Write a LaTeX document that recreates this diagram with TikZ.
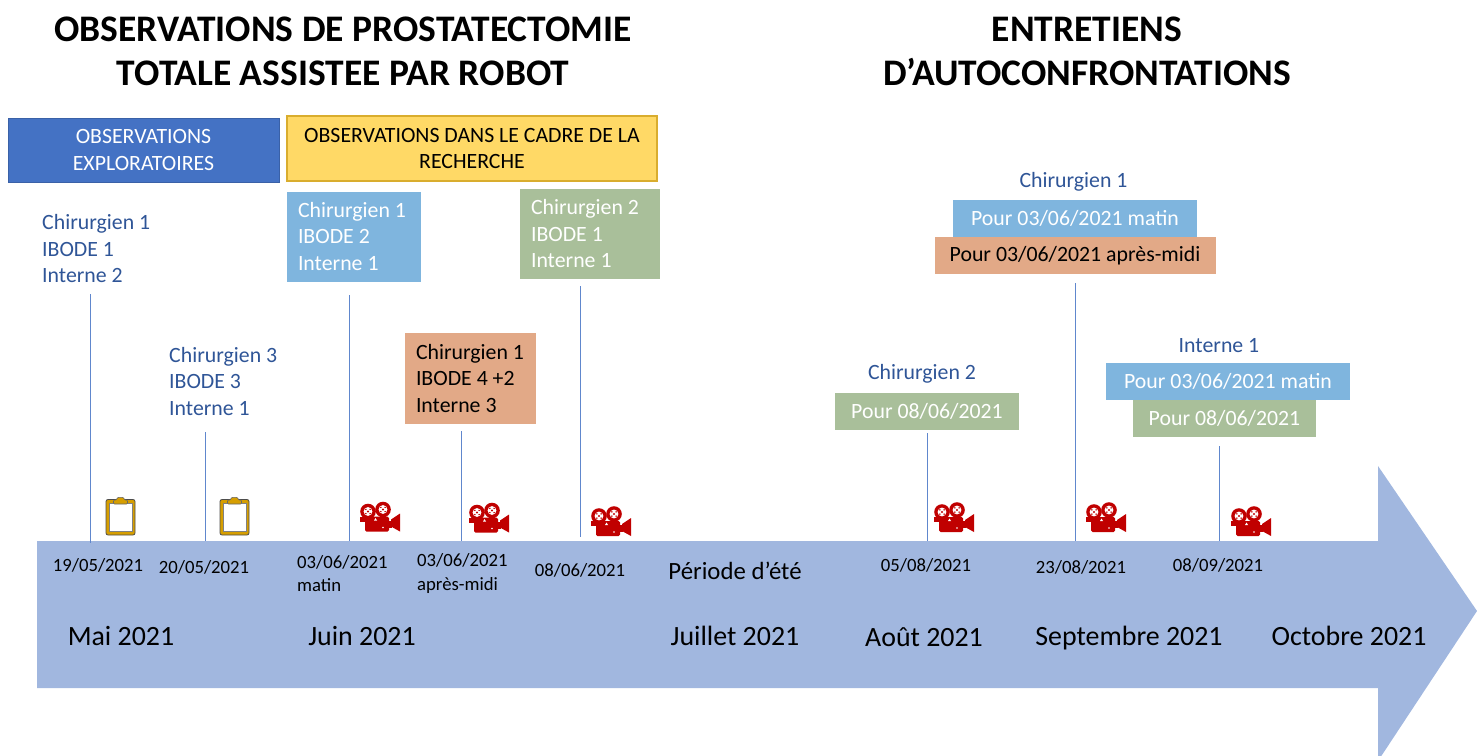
\documentclass[tikz,border=0pt]{standalone}
\usepackage{fontspec}
\setmainfont{Carlito}
\usepackage{xcolor}
\usepackage{tikz}
\usetikzlibrary{positioning}
\definecolor{arrowblue}{HTML}{A1B7DF}
\definecolor{darkblue}{HTML}{4472C4}
\definecolor{lightblue}{HTML}{7FB5DE}
\definecolor{softgreen}{HTML}{A9BF9A}
\definecolor{softorange}{HTML}{E2A987}
\definecolor{softyellow}{HTML}{FFD966}
\definecolor{yellowedge}{HTML}{D9AD2E}
\definecolor{labelblue}{HTML}{2F5597}
\definecolor{camred}{HTML}{C00000}
\definecolor{clipgold}{HTML}{D69E00}

\tikzset{
  box/.style={rectangle, inner sep=0pt, outer sep=0pt, align=center, font=\fontsize{21.8}{26.5}\selectfont},
  title/.style={align=center, inner sep=0pt, font=\fontsize{37.5}{44}\selectfont\bfseries},
  names/.style={anchor=west, align=flush left, inner sep=0pt, text=labelblue, font=\fontsize{21.8}{26.5}\selectfont},
  person/.style={inner sep=0pt, text=labelblue, font=\fontsize{21.8}{26.5}\selectfont},
  date/.style={inner sep=0pt, align=flush left, font=\fontsize{18.7}{23.5}\selectfont},
  month/.style={inner sep=0pt, font=\fontsize{27.9}{30}\selectfont},
  stem/.style={draw=darkblue!85, line width=1pt},
  pics/clipboard/.style={code={
    \draw[fill=clipgold, draw=black!70, line width=0.8pt, rounded corners=2pt] (0.5,2.5) rectangle (29.5,38);
    \draw[fill=white, draw=black!50, line width=1pt] (3.5,6) rectangle (26.5,34.5);
    \draw[fill=clipgold, draw=black!60, line width=0.6pt, rounded corners=1pt] (8,7) -- (8,3) -- (11,3) -- (12,0.3) -- (18,0.3) -- (19,3) -- (22,3) -- (22,7) -- cycle;
  }},
  pics/filmcam/.style={code={
    \fill[camred] (8,10) circle (7.8);
    \fill[camred] (23,8) circle (7.8);
    \fill[camred] (0,15) rectangle (6,20);
    \fill[camred, rounded corners=1.5pt] (5,15) rectangle (29,30);
    \fill[camred] (28,19) rectangle (32,26);
    \fill[camred] (31,18) -- (40,12) -- (40,30) -- (31,25) -- cycle;
    \fill[white] (8,10) circle (4.4);
    \fill[white] (23,8) circle (4.4);
    \fill[camred] (8,10) circle (1.2);
    \fill[camred] (23,8) circle (1.2);
    \foreach \a in {0,90,180,270} {
      \fill[camred] (8,10) ++(\a+45:3) circle (0.8);
      \fill[camred] (23,8) ++(\a+45:3) circle (0.8);
    }
    \fill[white] (15.5,16.5) -- (17,19) -- (14,19) -- cycle;
    \fill[white] (23,26) circle (0.8);
  }}
}

\begin{document}
\begin{tikzpicture}[x=1pt, y=-1pt]
  \useasboundingbox (0,0) rectangle (1477,755);
  \clip (0,0) rectangle (1477,755);

  % timeline arrow
  \fill[arrowblue] (37,541) -- (1378,541) -- (1378,466) -- (1477,611) -- (1378,761) -- (1378,688) -- (37,688) -- cycle;

  % titles
  \node[title] (T1) at (343,51) {OBSERVATIONS DE PROSTATECTOMIE\\TOTALE ASSISTEE PAR ROBOT};
  \node[title] (T2) at (1087,51) {ENTRETIENS\\D’AUTOCONFRONTATIONS};

  % phases
  \node[box, fill=darkblue, draw=darkblue!85!black, text=white, minimum width=271pt, minimum height=64pt] (EXPLO) at (143.5,150) {OBSERVATIONS\\EXPLORATOIRES};
  \node[box, fill=softyellow, draw=yellowedge, line width=1.2pt, minimum width=370pt, minimum height=65pt] (RECH) at (472,148.5) {OBSERVATIONS DANS LE CADRE DE LA\\RECHERCHE};

  % teams
  \node[names] (N1) at (42,249) {Chirurgien 1\\IBODE 1\\Interne 2};
  \node[names] (N2) at (169,381.5) {Chirurgien 3\\IBODE 3\\Interne 1};
  \node[box, fill=lightblue, text=white, minimum width=134pt, minimum height=90pt, align=flush left, text width=112pt] (N3) at (354,236.5) {Chirurgien 1\\IBODE 2\\Interne 1};
  \node[box, fill=softorange, minimum width=131pt, minimum height=91pt, align=flush left, text width=109pt] (N4) at (470.5,378.5) {Chirurgien 1\\IBODE 4 +2\\Interne 3};
  \node[box, fill=softgreen, text=white, minimum width=140pt, minimum height=90pt, align=flush left, text width=118pt] (N5) at (590,234) {Chirurgien 2\\IBODE 1\\Interne 1};

  % interviews
  \node[person] (P1) at (1073.5,181.5) {Chirurgien 1};
  \node[box, fill=lightblue, text=white, minimum width=244pt, minimum height=37pt] (M1) at (1075,218.5) {Pour 03/06/2021 matin};
  \node[box, fill=softorange, minimum width=281pt, minimum height=37pt] (A1) [below=0pt of M1] {Pour 03/06/2021 après-midi};

  \node[person] (P2) at (922,373.5) {Chirurgien 2};
  \node[box, fill=softgreen, text=white, minimum width=184pt, minimum height=37pt] (G2) at (927,411.5) {Pour 08/06/2021};

  \node[person] (P3) at (1219,345.5) {Interne 1};
  \node[box, fill=lightblue, text=white, minimum width=244pt, minimum height=37pt] (M3) at (1228,381.5) {Pour 03/06/2021 matin};
  \node[box, fill=softgreen, text=white, minimum width=183pt, minimum height=37pt] (G3) [below=0pt of M3, xshift=-3.5pt] {Pour 08/06/2021};

  % stems
  \coordinate (S1a) at (90,294);    \coordinate (S1b) at (90,543);
  \coordinate (S2a) at (205,432);   \coordinate (S2b) at (205,541);
  \coordinate (S3a) at (349.5,295); \coordinate (S3b) at (349.5,541);
  \coordinate (S4a) at (461,431);   \coordinate (S4b) at (461,541);
  \coordinate (S5a) at (580,286);   \coordinate (S5b) at (580,537);
  \coordinate (S6a) at (927,433);   \coordinate (S6b) at (927,541);
  \coordinate (S7a) at (1075,283);  \coordinate (S7b) at (1075,541);
  \coordinate (S8a) at (1219,446);  \coordinate (S8b) at (1219,541);
  \path[stem]
    (S1a) edge (S1b)
    (S2a) edge (S2b)
    (S3a) edge (S3b)
    (S4a) edge (S4b)
    (S5a) edge (S5b)
    (S6a) edge (S6b)
    (S7a) edge (S7b)
    (S8a) edge (S8b);

  % icons
  \pic at (105.5,497) {clipboard};
  \pic at (219.5,497) {clipboard};
  \pic at (360,501.5) {filmcam};
  \pic at (469,502.5) {filmcam};
  \pic at (591,506) {filmcam};
  \pic at (934,502) {filmcam};
  \pic at (1086,502) {filmcam};
  \pic at (1231,506) {filmcam};

  % dates
  \node[date] (D1) at (98,565) {19/05/2021};
  \node[date] (D2) at (204,567) {20/05/2021};
  \node[date, anchor=west] (D3) at (297,573.5) {03/06/2021\\matin};
  \node[date, anchor=west] (D4) at (417,573.5) {03/06/2021\\après-midi};
  \node[date] (D5) at (580,570) {08/06/2021};
  \node[date, font=\fontsize{24.8}{28}\selectfont] (D6) at (735,571) {Période d’été};
  \node[date] (D7) at (926,565) {05/08/2021};
  \node[date] (D8) at (1081,567) {23/08/2021};
  \node[date] (D9) at (1218,565) {08/09/2021};

  % months
  \node[month] (MAI) at (121,636) {Mai 2021};
  \node[month] (JUIN) at (362,636) {Juin 2021};
  \node[month] (JUIL) at (735,636) {Juillet 2021};
  \node[month] (AOUT) at (924,637) {Août 2021};
  \node[month] (SEPT) at (1129,638) {Septembre 2021};
  \node[month] (OCT) at (1349,636) {Octobre 2021};
\end{tikzpicture}
\end{document}
